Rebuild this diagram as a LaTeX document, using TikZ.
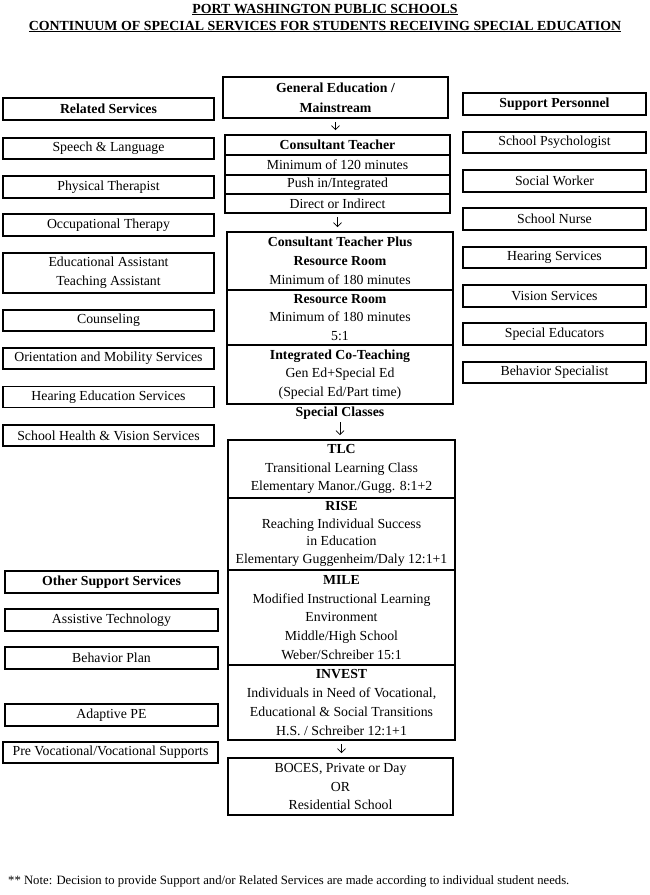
\documentclass[tikz,border=0pt]{standalone}
\usepackage{fontspec}
\setmainfont{Liberation Serif}
\usetikzlibrary{arrows.meta}
\newcommand\fs{\fontsize{13.8}{18.8}\selectfont}
\begin{document}
\begin{tikzpicture}[x=1pt,y=-1pt,
  bx/.style={draw, line width=1.7pt, inner sep=0pt, align=center, font=\fs},
  lbox/.style={bx, minimum width=211pt, minimum height=21pt},
  lbox2/.style={bx, minimum width=213pt, minimum height=22pt},
  rbox/.style={bx, minimum width=183pt, minimum height=21pt},
  sec/.style={bx, minimum width=226pt},
  txt/.style={inner sep=0pt, align=center, font=\fs},
  arr/.style={-{Straight Barb[length=4pt,width=8pt]}, line width=0.8pt, shorten <=3pt, shorten >=4pt},
  ttl/.style={anchor=base, inner sep=0pt, font=\fontsize{13.9}{16}\selectfont\bfseries},
]
\useasboundingbox (0,0) rectangle (650,895);
% title
\node[ttl] (t1) at (325,13) {\underline{PORT WASHINGTON PUBLIC SCHOOLS}};
\node[ttl] (t2) at (325,30) {\underline{CONTINUUM OF SPECIAL SERVICES FOR STUDENTS RECEIVING SPECIAL EDUCATION}};
% left column
\node[lbox, minimum height=22pt] (rs) at (108.5,109) {\textbf{Related Services}};
\node[lbox] (l1) at (108.5,148.5) {Speech \& Language};
\node[lbox, minimum height=22pt] (l2) at (108.5,187) {Physical Therapist};
\node[lbox, minimum height=22pt] (l3) at (108.5,225) {Occupational Therapy};
\node[lbox, minimum height=40pt] (l4) at (108.5,273) {Educational Assistant\\Teaching Assistant};
\node[lbox] (l5) at (108.5,320.5) {Counseling};
\node[lbox] (l6) at (108.5,358.5) {Orientation and Mobility Services};
\node[lbox] (l7) at (108.5,397) {Hearing Education Services};
\node[lbox] (l8) at (108.5,435.5) {School Health \& Vision Services};
\node[lbox2] (os) at (111.5,582) {\textbf{Other Support Services}};
\node[lbox2] (o1) at (111.5,620) {Assistive Technology};
\node[lbox2] (o2) at (111.5,658) {Behavior Plan};
\node[lbox2] (o3) at (111.5,715) {Adaptive PE};
\node[lbox2, minimum width=215pt, minimum height=21pt] (o4) at (110.5,752.5) {Pre Vocational/Vocational Supports};
% right column
\node[rbox, minimum height=22pt] (sp) at (554.5,104) {\textbf{Support Personnel}};
\node[rbox] (r1) at (554.5,142.5) {School Psychologist};
\node[rbox, minimum height=22pt] (r2) at (554.5,181) {Social Worker};
\node[rbox, minimum height=22pt] (r3) at (554.5,219) {School Nurse};
\node[rbox] (r4) at (554.5,257.5) {Hearing Services};
\node[rbox, minimum height=22pt] (r5) at (554.5,296) {Vision Services};
\node[rbox, minimum height=22pt] (r6) at (554.5,334) {Special Educators};
\node[rbox] (r7) at (554.5,372.5) {Behavior Specialist};
% center column
\node[sec, minimum width=225pt, minimum height=41pt, font=\fontsize{13.8}{20}\selectfont] (gen) at (335.5,97.5) {\textbf{General Education /}\\\textbf{Mainstream}};
\node[sec, minimum width=225pt, minimum height=20pt] (ct1) at (337.5,145) {\textbf{Consultant Teacher}};
\node[sec, minimum width=225pt, minimum height=20pt] (ct2) at (337.5,165) {Minimum of 120 minutes};
\node[sec, minimum width=225pt, minimum height=19pt] (ct3) at (337.5,184.5) {Push in/Integrated};
\node[sec, minimum width=225pt, minimum height=19pt] (ct4) at (337.5,203.5) {Direct or Indirect};
\node[sec, minimum height=58pt] (ctp) at (340,261) {\textbf{Consultant Teacher Plus}\\\textbf{Resource Room}\\Minimum of 180 minutes};
\node[sec, minimum height=55pt] (rr) at (340,317.5) {\textbf{Resource Room}\\Minimum of 180 minutes\\5:1};
\node[sec, minimum height=59pt] (ict) at (340,374.5) {\textbf{Integrated Co-Teaching}\\Gen Ed+Special Ed\\(Special Ed/Part time)};
\node[inner sep=0pt, font=\fs\bfseries] (spc) at (340,413) {Special Classes};
\node[sec, minimum width=227pt, minimum height=58pt] (tlc) at (341.5,469) {\textbf{TLC}\\Transitional Learning Class\\Elementary Manor./Gugg. 8:1+2};
\node[sec, minimum width=227pt, minimum height=72pt] (rise) at (341.5,534) {};
\node[txt, font=\fontsize{13.8}{17.7}\selectfont] (risetxt) at (341.5,534) {\textbf{RISE}\\Reaching Individual Success\\in Education\\Elementary Guggenheim/Daly 12:1+1};
\node[sec, minimum width=227pt, minimum height=95pt] (mile) at (341.5,617.5) {\textbf{MILE}\\Modified Instructional Learning\\Environment\\Middle/High School\\Weber/Schreiber 15:1};
\node[sec, minimum width=227pt, minimum height=75pt] (inv) at (341.5,702.5) {\textbf{INVEST}\\Individuals in Need of Vocational,\\Educational \& Social Transitions\\H.S. / Schreiber 12:1+1};
\node[sec, minimum width=225pt, minimum height=57pt] (boces) at (340.5,786.5) {BOCES, Private or Day\\OR\\Residential School};
% arrows
\draw[arr] (gen.south) -- (gen.south |- ct1.north);
\draw[arr] (ct4.south) -- (ct4.south |- ctp.north);
\draw[arr] (spc.south) -- (spc.south |- tlc.north);
\draw[arr] (inv.south) -- (inv.south |- boces.north);
% note
\node[anchor=base west, inner sep=0pt, font=\fontsize{12.7}{14}\selectfont] (note) at (8,884) {** Note: Decision to provide Support and/or Related Services are made according to individual student needs.};
\end{tikzpicture}
\end{document}
